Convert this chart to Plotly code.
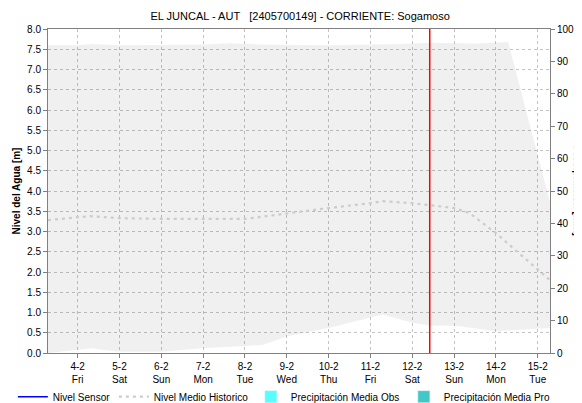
import plotly.graph_objects as go

# ---- data ----
title_text = "EL JUNCAL - AUT\u00a0\u00a0\u00a0[2405700149] - CORRIENTE: Sogamoso"

band_low_t = ["2022-02-03 07:00", "2022-02-03 18:00", "2022-02-04 02:00", "2022-02-04 08:00",
              "2022-02-04 14:00", "2022-02-05 00:00", "2022-02-06 00:00", "2022-02-06 14:00",
              "2022-02-07 00:00", "2022-02-08 00:00", "2022-02-08 10:00", "2022-02-09 01:00",
              "2022-02-10 00:00", "2022-02-11 07:00", "2022-02-12 00:00", "2022-02-12 10:00",
              "2022-02-13 01:00", "2022-02-14 00:00", "2022-02-14 13:00", "2022-02-15 07:00"]
band_low_v = [0.0, 0.05, 0.10, 0.12, 0.08, 0.03, 0.03, 0.08, 0.12, 0.17, 0.20, 0.42,
              0.62, 0.95, 0.75, 0.67, 0.67, 0.54, 0.58, 0.62]

band_high_t = ["2022-02-03 07:00", "2022-02-04 00:00", "2022-02-04 08:00", "2022-02-05 00:00",
               "2022-02-07 00:00", "2022-02-07 16:00", "2022-02-08 08:00", "2022-02-10 00:00",
               "2022-02-11 18:00", "2022-02-12 10:00", "2022-02-13 12:00", "2022-02-14 07:00",
               "2022-02-15 07:00"]
band_high_v = [7.60, 7.60, 7.63, 7.60, 7.62, 7.65, 7.62, 7.60, 7.63, 7.66, 7.64, 7.68, 3.73]

hist_t = ["2022-02-03 07:00", "2022-02-04 07:00", "2022-02-05 00:00", "2022-02-06 00:00",
          "2022-02-08 00:00", "2022-02-09 00:00", "2022-02-10 00:00", "2022-02-11 00:00",
          "2022-02-11 07:00", "2022-02-12 00:00", "2022-02-12 10:00", "2022-02-13 00:00",
          "2022-02-13 09:00", "2022-02-14 00:00", "2022-02-14 13:00", "2022-02-15 00:00",
          "2022-02-15 07:00"]
hist_v = [3.28, 3.38, 3.33, 3.31, 3.31, 3.45, 3.58, 3.70, 3.75, 3.70, 3.65, 3.58,
          3.45, 2.96, 2.47, 2.05, 1.80]

sensor_t = []
sensor_v = []
now_time = "2022-02-12 10:00"
x_range = ["2022-02-03 07:00", "2022-02-15 07:00"]

FONT = "Liberation Sans, Arial, sans-serif"
GRID = "#c4c4c4"

fig = go.Figure()

fig.add_trace(go.Scatter(x=band_low_t, y=band_low_v, mode="lines", line=dict(width=0),
                         showlegend=False, hoverinfo="skip"))
fig.add_trace(go.Scatter(x=band_high_t, y=band_high_v, mode="lines", line=dict(width=0),
                         fill="tonexty", fillcolor="rgba(0,0,0,0.06)",
                         showlegend=False, hoverinfo="skip"))

fig.add_trace(go.Scatter(x=sensor_t or [None], y=sensor_v or [None], mode="lines",
                         name="Nivel Sensor", legendrank=1, legendwidth=56,
                         line=dict(color="#0000ff", width=1.5)))
fig.add_trace(go.Scatter(x=hist_t, y=hist_v, mode="lines", name="Nivel Medio Historico",
                         legendrank=2, legendwidth=92,
                         line=dict(color="#cccccc", width=2.2, dash="3px,4px")))
fig.add_trace(go.Bar(x=[None], y=[None], name="Precipitación Media Obs", legendrank=3,
                     legendwidth=108, marker_color="#55ffff", yaxis="y2"))
fig.add_trace(go.Bar(x=[None], y=[None], name="Precipitación Media Pro", legendrank=4,
                     legendwidth=104, marker_color="#40c8c8", yaxis="y2"))

fig.add_shape(type="line", x0=now_time, x1=now_time, y0=0, y1=1, xref="x", yref="paper",
              line=dict(color="#ff0000", width=1.5))

# right axis title, mostly cut by the page edge as in the reference
fig.add_annotation(text="<b>Precipitación [mm]</b>", xref="paper", yref="paper",
                   x=1.056, y=0.5, xanchor="center", yanchor="middle", textangle=90,
                   showarrow=False, font=dict(family=FONT, size=10, color="#000000"))

# page body adds an 8px offset, so the figure is 8px smaller each way
fig.update_layout(
    width=574, height=395,
    margin=dict(l=40, r=32, t=21, b=50, autoexpand=False),
    paper_bgcolor="white", plot_bgcolor="white",
    font=dict(family=FONT, size=10, color="#000000"),
    title=dict(text=title_text, x=0.509, xanchor="center", y=0.98, yanchor="middle",
               font=dict(family=FONT, size=11, color="#000000")),
    showlegend=True,
    legend=dict(orientation="h", x=-0.07, xanchor="left", y=-0.09, yanchor="top",
                traceorder="normal", font=dict(family=FONT, size=10), itemwidth=30,
                tracegroupgap=0, bgcolor="rgba(0,0,0,0)"),
    xaxis=dict(type="date", range=x_range, tick0="2022-02-04", dtick=86400000,
               tickformat="%-d-%-m<br>%a", ticks="outside", ticklen=4, tickcolor="#808080",
               showgrid=True, gridcolor=GRID, griddash="3px,3px", gridwidth=1,
               showline=True, linecolor="#808080", linewidth=1, mirror=True,
               tickfont=dict(size=10), zeroline=False, automargin=False),
    yaxis=dict(range=[0, 8], dtick=0.5, tickformat=".1f", ticks="outside", ticklen=4,
               tickcolor="#808080", showgrid=True, gridcolor=GRID, griddash="3px,3px",
               showline=True, linecolor="#808080", linewidth=1, zeroline=False,
               automargin=False,
               title=dict(text="<b>Nivel del Agua [m]</b>", font=dict(size=10), standoff=4),
               tickfont=dict(size=10)),
    yaxis2=dict(range=[0, 100], dtick=10, overlaying="y", side="right", ticks="outside",
                ticklen=4, tickcolor="#808080", showgrid=False, showline=True,
                linecolor="#808080", linewidth=1, zeroline=False, automargin=False,
                tickfont=dict(size=10)),
)

fig.write_html("out.html")
